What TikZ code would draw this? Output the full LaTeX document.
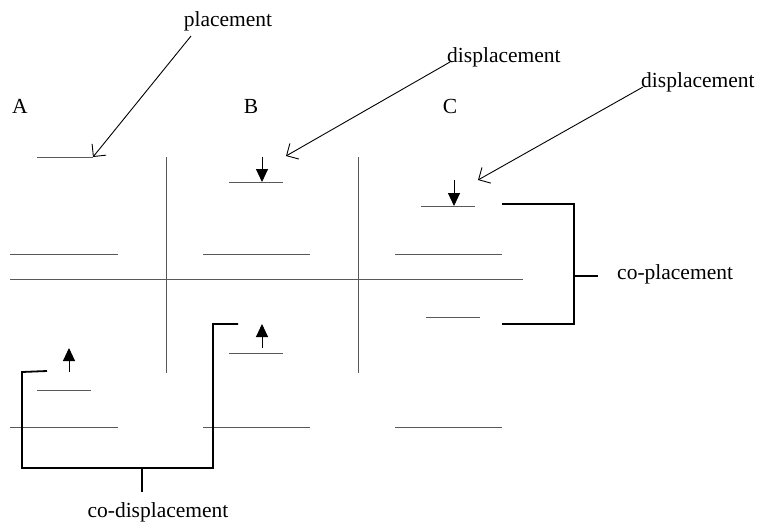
\documentclass[tikz,border=0pt]{standalone}
\usepackage{fontspec}
\setmainfont{Liberation Serif}
\usetikzlibrary{arrows.meta}
\begin{document}
\begin{tikzpicture}[x=1pt,y=-1pt,
  lbl/.style={inner sep=0pt,font=\fontsize{21.5}{24}\selectfont},
  level/.style={draw=black!65,line width=1pt},
  divider/.style={draw=black!65,line width=1pt},
  pointer/.style={draw=black,line width=0.9pt,-{Straight Barb[length=9pt,width=18pt,line width=0.9pt]}},
  moveto/.style={draw=black,line width=1pt,-{Triangle[length=13pt,width=12pt]}},
  bracket/.style={draw=black,line width=1.8pt}]
\useasboundingbox (0,0) rectangle (757,528);

% column headings
\node[lbl] (colA) at (20,106) {A};
\node[lbl] (colB) at (251,106) {B};
\node[lbl] (colC) at (450,106) {C};

% column dividers and the middle axis
\draw[divider] (166,157) -- (166,373);
\draw[divider] (358,157) -- (358,373);
\draw[level] (10,279) -- (523,279);

% column A levels
\draw[level] (37,157) coordinate (a1w) -- (93,157) coordinate (a1e);
\draw[level] (10,254) -- (118,254);
\draw[level] (37,390) coordinate (a2w) -- (91,390) coordinate (a2e);
\draw[level] (10,427) -- (118,427);

% column B levels
\draw[level] (229,182) coordinate (b1w) -- (283,182) coordinate (b1e);
\draw[level] (203,254) -- (310,254);
\draw[level] (229,353) coordinate (b2w) -- (283,353) coordinate (b2e);
\draw[level] (203,427) -- (310,427);

% column C levels
\draw[level] (421,206) coordinate (c1w) -- (475,206) coordinate (c1e);
\draw[level] (395,254) -- (502,254);
\draw[level] (426,317) coordinate (c2w) -- (480,317) coordinate (c2e);
\draw[level] (395,427) -- (502,427);

% movement arrows
\coordinate (b1top) at (262,157);
\coordinate (c1top) at (454,180);
\coordinate (a2tip) at (69,348);
\coordinate (b2tip) at (262,324);
\draw[moveto] (b1top) -- (262,182);
\draw[moveto] (c1top) -- (454,206);
\draw[moveto] (69,372) -- (a2tip);
\draw[moveto] (262,348) -- (b2tip);

% labels with pointers
\node[lbl] (plc) at (228,21) {placement};
\node[lbl,anchor=west] (dspB) at (447,57) {displacement};
\node[lbl,anchor=west] (dspC) at (641,82) {displacement};
\coordinate (plcfoot) at (191,36);
\coordinate (dspBfoot) at (450,62);
\coordinate (dspCfoot) at (643,87);
\draw[pointer] (plcfoot) -- (a1e);
\draw[pointer] (dspBfoot) -- (286,156);
\draw[pointer] (dspCfoot) -- (478,180);

% co-placement bracket
\coordinate (cpTop) at (502,204);
\coordinate (cpBot) at (502,324);
\coordinate (cpMid) at (574,276);
\draw[bracket] (cpTop) -- (574,204) -- (574,324) -- (cpBot);
\node[lbl,anchor=west] (coplc) at (617,274) {co-placement};
\draw[bracket] (cpMid) -- (598,276);

% co-displacement bracket
\coordinate (cdA) at (47,371);
\coordinate (cdB) at (238,324);
\coordinate (cdMid) at (142,468);
\draw[bracket] (cdA) -- (22,372) -- (22,468) -- (213,468) -- (213,324) -- (cdB);
\node[lbl] (codsp) at (158,512) {co-displacement};
\draw[bracket] (cdMid) -- (142,492);
\end{tikzpicture}
\end{document}
